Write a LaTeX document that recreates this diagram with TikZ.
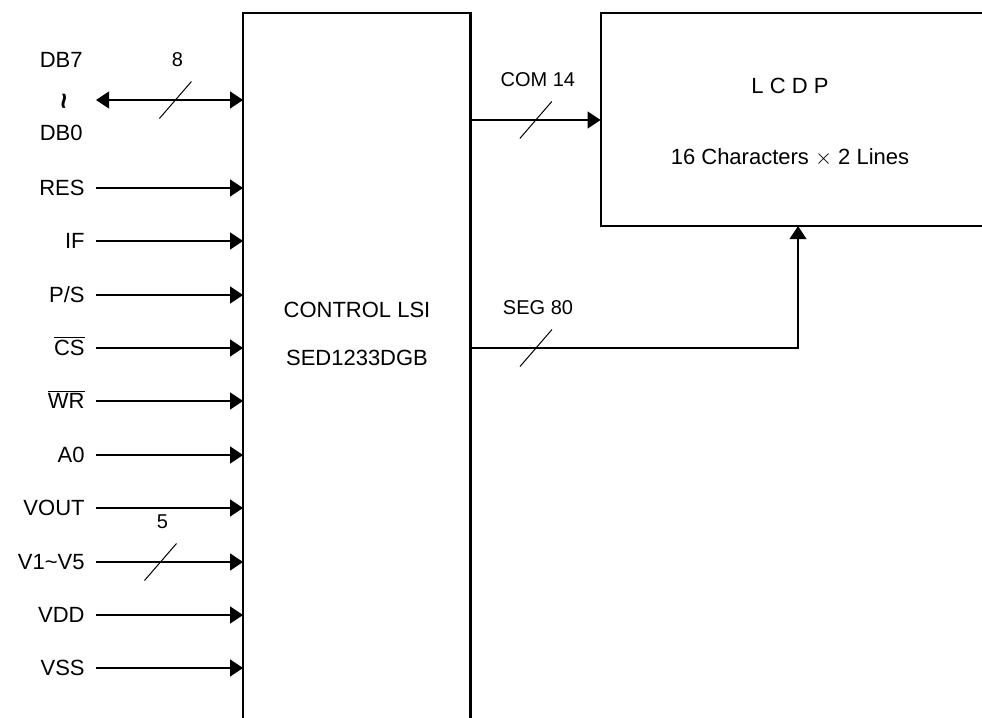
\documentclass[tikz,border=0pt]{standalone}
\usepackage{fontspec}
\setmainfont{Liberation Sans}
\usetikzlibrary{arrows.meta,positioning,calc}
\tikzset{
    >={Triangle[length=6.5pt,width=8.5pt]},
    sig/.style     = {->, line width=0.6pt},
    dsig/.style    = {<->, line width=0.6pt},
    busline/.style = {line width=0.5pt},
    boxline/.style = {line width=1.1pt},
    pinlbl/.style  = {inner sep=0pt, text height=7.9pt, text depth=0pt, font=\fontsize{11}{13}\selectfont},
    buslbl/.style  = {inner sep=0pt, font=\fontsize{10}{12}\selectfont},
    boxtxt/.style  = {inner sep=0pt, font=\fontsize{11}{13}\selectfont}
}
\newcommand\ovl[1]{$\overline{\mbox{#1}}$}

\begin{document}
\begin{tikzpicture}[x=0.5pt, y=-0.5pt]
    \useasboundingbox (0,0) rectangle (982,718);

    % Boxes, open where they run off the page
    \node[minimum width=113.25pt, minimum height=363.25pt, inner sep=0pt] (lsi) at (356.75,376.75) {};
    \node[minimum width=197pt, minimum height=106.1pt, inner sep=0pt] (lcd) at (798,119.6) {};
    \draw[boxline] (lsi.south west) -- (lsi.north west) -- (lsi.north east) -- (lsi.south east);
    \draw[boxline] (lcd.north east) -- (lcd.north west) -- (lcd.south west) -- (lcd.south east);

    \node[boxtxt] (lsiname) at (357,310) {CONTROL LSI};
    \node[boxtxt] (lsipart) at (357,358) {SED1233DGB};
    \node[boxtxt] (lcdname) at (790,86) {L C D P};
    \node[boxtxt] (lcdsize) at (790,157) {16 Characters $\times$ 2 Lines};

    % Data bus
    \coordinate (adb) at (96,100);
    \draw[dsig] (adb) -- coordinate[pos=0.54] (mdb) (adb -| lsi.west);
    \node[pinlbl, anchor=east] (ldbh) at (83,60) {DB7};
    \node[pinlbl, anchor=east] (ldbl) at (83,133) {DB0};
    \node[rotate=90, inner sep=0pt, font=\fontsize{14}{14}\selectfont\bfseries] (ldbdots) at (68,101) {\textasciitilde};

    % Input pins
    \foreach \n/\t/\y in {res/RES/188, ifs/IF/241, ps/{P/S}/295, cs/{\ovl{CS}}/348,
        wr/{\ovl{WR}}/401, azero/A0/455, vout/VOUT/508, vlcd/{V1\textasciitilde V5}/562,
        vdd/VDD/615, vss/VSS/668} {
        \coordinate (a\n) at (96,\y);
        \node[pinlbl, left=5.5pt of a\n] (l\n) {\t};
        \draw[sig] (a\n) -- (a\n -| lsi.west);
    }
    \coordinate (mv) at ($(avlcd)+(64.5,0)$);

    % Outputs to the panel
    \coordinate (comout) at (470,120);
    \draw[sig] (comout) -- coordinate[pos=0.504] (mcom) (comout -| lcd.west);
    \coordinate (segout) at (470,348);
    \draw[sig] (segout) -| (lcd.south);
    \coordinate (mseg) at ($(segout)+(66,0)$);

    % Bus width marks
    \foreach \m/\t in {mdb/8, mv/5, mcom/COM 14, mseg/SEG 80} {
        \draw[busline] ($(\m)+(-16,18.5)$) -- ($(\m)+(16,-18.5)$);
        \node[buslbl] (n\m) at ($(\m)+(2,-40)$) {\t};
    }

\end{tikzpicture}
\end{document}
